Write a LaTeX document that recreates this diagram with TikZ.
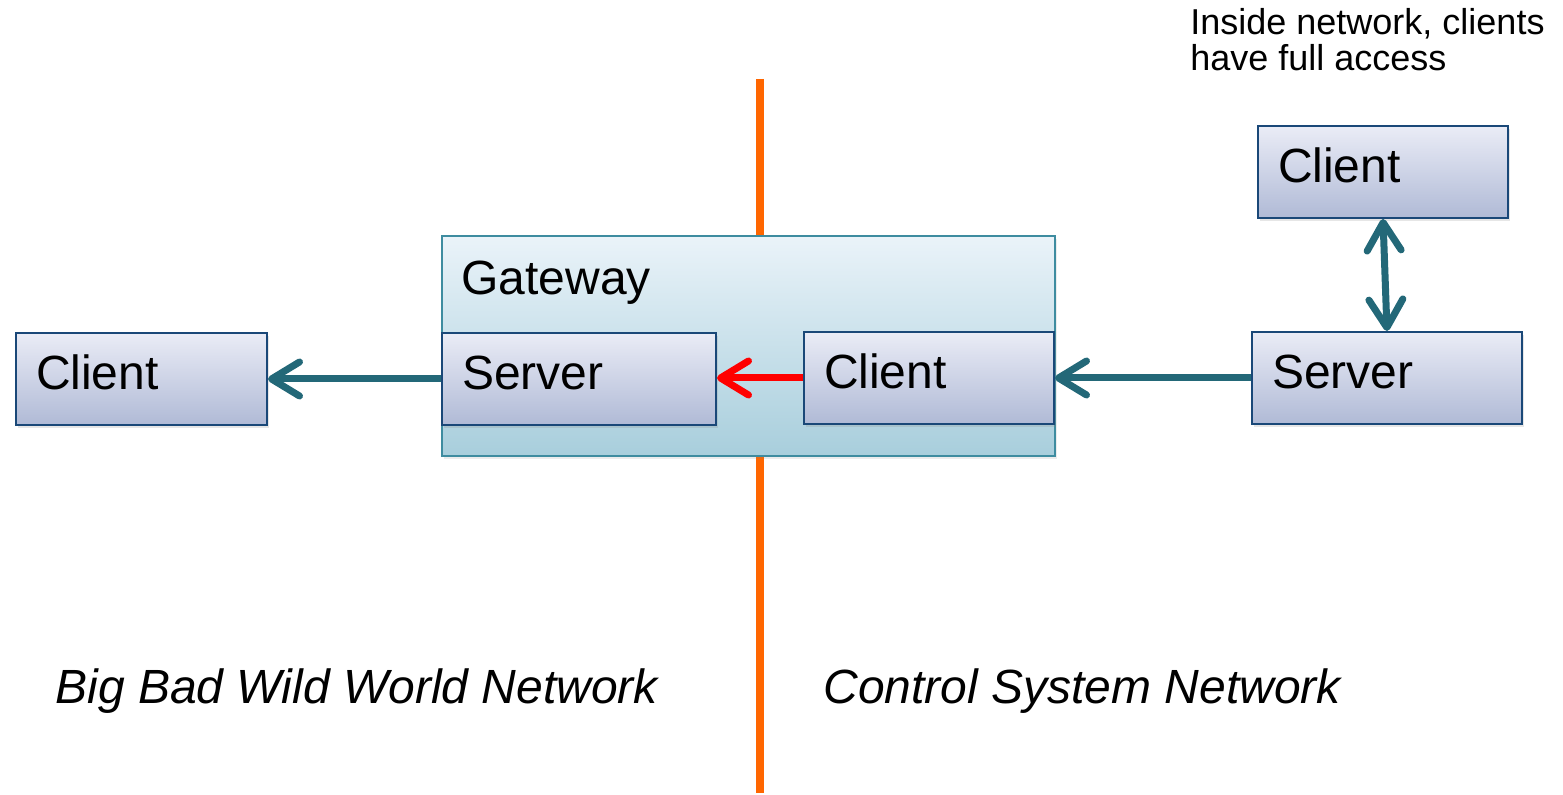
\documentclass[tikz,border=0pt]{standalone}
\usepackage{fontspec}
\setmainfont{Liberation Sans}
\usetikzlibrary{arrows.meta,shadows}

\definecolor{boxline}{RGB}{26,72,120}
\definecolor{boxtop}{RGB}{234,236,246}
\definecolor{boxbot}{RGB}{176,186,214}
\definecolor{gwline}{RGB}{62,140,160}
\definecolor{gwtop}{RGB}{234,243,249}
\definecolor{gwbot}{RGB}{168,206,220}
\definecolor{linkcol}{RGB}{35,104,120}
\definecolor{wallcol}{RGB}{255,102,0}

\begin{document}
\begin{tikzpicture}[x=0.5pt,y=-0.5pt,
  box/.style={draw=boxline, line width=1pt, top color=boxtop, bottom color=boxbot,
    anchor=north west, align=left, inner xsep=10pt, text width=#1,
    minimum height=46pt, text height=17.5pt, text depth=6.8pt,
    font=\fontsize{24}{28}\selectfont,
    drop shadow={opacity=0.2, shadow xshift=1pt, shadow yshift=-1.5pt}},
  barb/.tip={Straight Barb[length=14pt,width=17pt,round]},
  link/.style={line width=3.5pt, draw=linkcol, -barb}]

  \def\wallx{760}
  \def\walltop{79}
  \def\wallbot{793}

  \useasboundingbox (0,0) rectangle (1563,795);

  % firewall line
  \draw[wallcol, line width=4pt] (\wallx,\walltop) -- (\wallx,\wallbot);

  % gateway
  \node (gateway) [draw=gwline, line width=1pt, top color=gwtop, bottom color=gwbot,
    anchor=north west, inner sep=0pt, minimum width=306.5pt, minimum height=110pt,
    drop shadow={opacity=0.15, shadow xshift=1pt, shadow yshift=-1.5pt}] at (441,235) {};
  \node (gwlabel) [anchor=base west, inner sep=0pt, font=\fontsize{24}{28}\selectfont]
    at (461,295) {Gateway};

  % boxes
  \foreach \name/\x/\y/\w/\txt in {outclient/15/332/105.5pt/Client,
      gwserver/441/332/117pt/Server, gwclient/803/331/105pt/Client,
      inserver/1251/331/115pt/Server, inclient/1257/125/105pt/Client}
    \node (\name) [box=\w] at (\x,\y) {\txt};

  % links
  \draw[link] (gwserver.west) -- (outclient.east);
  \draw[link, draw=red] (gwclient.west) -- (gwserver.east |- gwclient.west);
  \draw[link] (inserver.west) -- (gwclient.east);
  \draw[link, barb-barb] (inclient.south) -- (inserver.north);

  % labels
  \node (note) [anchor=base west, align=left, inner sep=0pt, font=\fontsize{18}{18}\selectfont]
    at (1190,71) {Inside network, clients\\have full access};
  \node (outside) [anchor=base west, inner sep=0pt, font=\fontsize{24}{28}\selectfont\itshape]
    at (55,704) {Big Bad Wild World Network};
  \node (inside) [anchor=base west, inner sep=0pt, font=\fontsize{24}{28}\selectfont\itshape]
    at (823,704) {Control System Network};
\end{tikzpicture}
\end{document}
